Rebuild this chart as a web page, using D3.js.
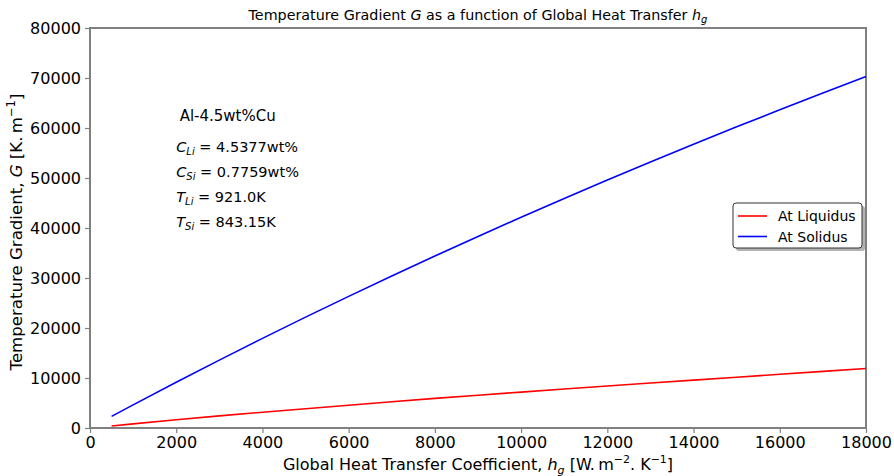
<!DOCTYPE html>
<html>
<head>
<meta charset="utf-8">
<script src="https://cdn.jsdelivr.net/npm/d3@7"></script>
<style>
  body { margin: 0; background: #fff; }
  text { font-family: "DejaVu Sans", sans-serif; }
</style>
</head>
<body>
<div id="chart"></div>
<script>
// heat transfer coefficient values (x)
var hg = [500, 1000, 2000, 3000, 4000, 5000, 6000, 7000, 8000, 9000,
          10000, 11000, 12000, 13000, 14000, 15000, 16000, 17000, 18000];
// gradient at liquidus (red)
var gLiquidus = [410, 820, 1650, 2420, 3150, 3850, 4560, 5250, 5920, 6560,
                 7180, 7800, 8400, 8990, 9580, 10160, 10740, 11320, 11900];
// gradient at solidus (blue)
var gSolidus = [2330, 4630, 9150, 13580, 17920, 22170, 26330, 30400, 34390, 38310,
                42140, 45900, 49590, 53200, 56750, 60230, 63640, 67000, 70280];
var xTicks = [0, 2000, 4000, 6000, 8000, 10000, 12000, 14000, 16000, 18000];
var yTicks = [0, 10000, 20000, 30000, 40000, 50000, 60000, 70000, 80000];
var seriesNames = ["At Liquidus", "At Solidus"];
var seriesColors = ["#ff0000", "#0000ff"];

// set the dimensions and margins of the graph
var margin = {top: 28, right: 28, bottom: 48, left: 90},
    width = 894 - margin.left - margin.right,
    height = 476 - margin.top - margin.bottom;

var svg = d3.select("#chart")
  .append("svg")
    .attr("width", 894)
    .attr("height", 476);

var g = svg.append("g")
    .attr("transform", "translate(" + margin.left + "," + margin.top + ")");

var x = d3.scaleLinear().domain([0, 18000]).range([0, width]);
var y = d3.scaleLinear().domain([0, 80000]).range([height, 0]);

// axes
var xAxis = g.append("g")
  .attr("transform", "translate(0," + height + ")")
  .call(d3.axisBottom(x).tickValues(xTicks).tickFormat(d3.format("d")).tickSize(5).tickPadding(4));
var yAxis = g.append("g")
  .call(d3.axisLeft(y).tickValues(yTicks).tickFormat(d3.format("d")).tickSize(5).tickPadding(4));

[xAxis, yAxis].forEach(function(a) {
  a.selectAll("text")
    .style("font-family", "'DejaVu Sans', sans-serif")
    .style("font-size", "16px")
    .attr("fill", "#000");
  a.selectAll(".tick line").attr("stroke", "#808080").attr("stroke-width", 1.2);
  a.select(".domain").remove();
});

// spines
g.append("rect")
  .attr("x", 0).attr("y", 0)
  .attr("width", width).attr("height", height)
  .attr("fill", "none")
  .attr("stroke", "#808080")
  .attr("stroke-width", 2);

// lines
var line = d3.line()
  .x(function(d) { return x(d[0]); })
  .y(function(d) { return y(d[1]); });

[gLiquidus, gSolidus].forEach(function(s, i) {
  g.append("path")
    .datum(hg.map(function(h, j) { return [h, s[j]]; }))
    .attr("fill", "none")
    .attr("stroke", seriesColors[i])
    .attr("stroke-width", 1.6)
    .attr("d", line);
});

// title
var title = svg.append("text")
  .attr("x", margin.left + width / 2)
  .attr("y", 20)
  .attr("text-anchor", "middle")
  .style("font-size", "14.3px");
title.append("tspan").text("Temperature Gradient ");
title.append("tspan").attr("font-style", "italic").text("G");
title.append("tspan").text(" as a function of Global Heat Transfer ");
title.append("tspan").attr("font-style", "italic").text("h");
title.append("tspan").attr("font-style", "italic").attr("font-size", "10px").attr("dy", 3).text("g");

// x label
var xl = svg.append("text")
  .attr("x", margin.left + width / 2)
  .attr("y", 470)
  .attr("text-anchor", "middle")
  .style("font-size", "16px");
xl.append("tspan").text("Global Heat Transfer Coefficient,  ");
xl.append("tspan").attr("font-style", "italic").text("h");
xl.append("tspan").attr("font-style", "italic").attr("font-size", "11px").attr("dy", 4).text("g");
xl.append("tspan").attr("dy", -4).text(" [W.\u2009m");
xl.append("tspan").attr("font-size", "11px").attr("dy", -7).text("\u22122");
xl.append("tspan").attr("dy", 7).text(". K");
xl.append("tspan").attr("font-size", "11px").attr("dy", -7).text("\u22121");
xl.append("tspan").attr("dy", 7).text("]");

// y label
var yl = svg.append("text")
  .attr("transform", "translate(22," + (margin.top + height / 2 + 4) + ") rotate(-90)")
  .attr("text-anchor", "middle")
  .style("font-size", "16.6px");
yl.append("tspan").text("Temperature Gradient, ");
yl.append("tspan").attr("font-style", "italic").text("G");
yl.append("tspan").text(" [K.\u2009m");
yl.append("tspan").attr("font-size", "11.5px").attr("dy", -7).text("\u22121");
yl.append("tspan").attr("dy", 7).text("]");

// annotations
var annX = 2000;
g.append("text")
  .attr("x", x(annX + 80)).attr("y", y(61500))
  .style("font-size", "15px")
  .text("Al-4.5wt%Cu");

var annRows = [
  {sym: "C", sub: "Li", val: " = 4.5377wt%", g: 55200},
  {sym: "C", sub: "Si", val: " = 0.7759wt%", g: 50200},
  {sym: "T", sub: "Li", val: " = 921.0K", g: 45200},
  {sym: "T", sub: "Si", val: " = 843.15K", g: 40200}
];
annRows.forEach(function(r) {
  var t = g.append("text")
    .attr("x", x(annX)).attr("y", y(r.g))
    .style("font-size", "14.5px");
  t.append("tspan").attr("font-style", "italic").text(r.sym);
  t.append("tspan").attr("font-style", "italic").attr("font-size", "10px").attr("dy", 3).text(r.sub);
  t.append("tspan").attr("dy", -3).text(r.val);
});

// legend
var lg = g.append("g").attr("transform", "translate(" + (width - 133) + "," + 175 + ")");
lg.append("rect")
  .attr("x", 3).attr("y", 3).attr("width", 129).attr("height", 45)
  .attr("rx", 3).attr("fill", "#808080").attr("opacity", 0.6);
lg.append("rect")
  .attr("x", 0).attr("y", 0).attr("width", 129).attr("height", 45)
  .attr("rx", 3).attr("fill", "#fff").attr("stroke", "#333").attr("stroke-width", 1);
seriesNames.forEach(function(n, i) {
  var yy = 13 + i * 20.5;
  lg.append("line")
    .attr("x1", 5).attr("x2", 34).attr("y1", yy).attr("y2", yy)
    .attr("stroke", seriesColors[i]).attr("stroke-width", 1.6);
  lg.append("text")
    .attr("x", 45).attr("y", yy + 5)
    .style("font-size", "14px")
    .text(n);
});
</script>
</body>
</html>
